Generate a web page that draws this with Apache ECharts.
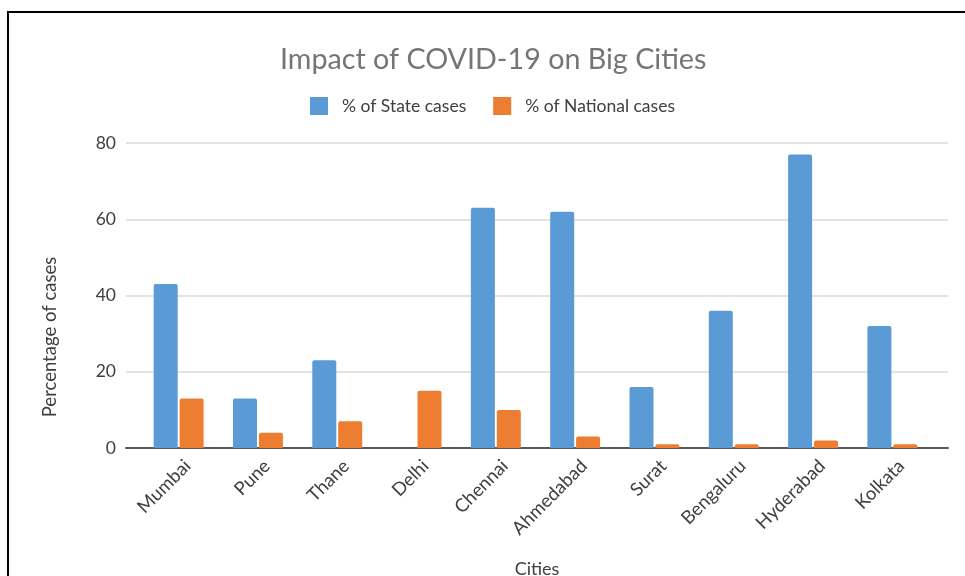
<!DOCTYPE html>
<html>
<head>
<meta charset="utf-8">
<script src="https://cdn.jsdelivr.net/npm/echarts@6/dist/echarts.min.js"></script>
<style>
  html, body { margin: 0; padding: 0; background: #fff; }
  #chart { width: 965px; height: 576px; }
</style>
</head>
<body>
<div id="chart"></div>
<script>
const cities = ['Mumbai', 'Pune', 'Thane', 'Delhi', 'Chennai', 'Ahmedabad', 'Surat', 'Bengaluru', 'Hyderabad', 'Kolkata']
const stateCases = [43, 13, 23, 0, 63, 62, 16, 36, 77, 32]
const nationalCases = [13, 4, 7, 15, 10, 3, 1, 1, 2, 1]
const yTicks = [0, 20, 40, 60, 80]

const textColor = '#404040'
const font = 'Lato'

const myChart = echarts.init(document.getElementById('chart'))

myChart.setOption({
  animation: false,
  title: {
    text: 'Impact of COVID-19 on Big Cities',
    left: 275,
    top: 40,
    textStyle: {
      color: '#757575',
      fontFamily: font,
      fontWeight: 'normal',
      fontSize: 28.7
    }
  },
  legend: {
    top: 92,
    left: 305,
    itemWidth: 18,
    itemHeight: 18,
    itemGap: 27,
    icon: 'rect',
    textStyle: { color: textColor, fontFamily: font, fontSize: 17.5, padding: [0, 0, 0, 9] },
    data: ['% of State cases', '% of National cases']
  },
  graphic: [
    {
      type: 'rect',
      shape: { x: 8, y: 12, width: 1100, height: 1100 },
      style: { fill: 'none', stroke: '#000', lineWidth: 2 }
    },
    {
      // y axis title, Excel puts it a bit below the plot centre
      type: 'text',
      x: 50,
      y: 337,
      rotation: Math.PI / 2,
      style: {
        text: 'Percentage of cases',
        fill: textColor,
        font: '18.5px Lato',
        align: 'center',
        verticalAlign: 'middle'
      }
    }
  ],
  grid: [
    // bars
    { left: 139, right: 33, top: 143, bottom: 128, outerBoundsMode: 'none' },
    // gridlines, labels and names (plot area)
    { left: 126, right: 17, top: 143, bottom: 128, outerBoundsMode: 'none' },
    // rotated city labels, nudged right like Excel does
    { left: 148, right: 24, top: 143, bottom: 128, outerBoundsMode: 'none' }
  ],
  xAxis: [
    {
      type: 'category',
      gridIndex: 0,
      data: cities,
      axisLine: { show: false },
      axisTick: { show: false },
      axisLabel: { show: false }
    },
    {
      type: 'value',
      gridIndex: 1,
      min: 0,
      max: 1,
      axisLabel: { show: false },
      axisTick: { show: false },
      splitLine: { show: false },
      axisLine: { show: true, onZero: false, lineStyle: { color: '#595959', width: 2 } },
      name: 'Cities',
      nameLocation: 'middle',
      nameGap: 112,
      nameTextStyle: { color: textColor, fontFamily: font, fontSize: 18 }
    },
    {
      type: 'category',
      gridIndex: 2,
      data: cities,
      axisLine: { show: false },
      axisTick: { show: false },
      axisLabel: {
        rotate: 45,
        margin: 15,
        color: textColor,
        fontFamily: font,
        fontSize: 18.5
      }
    }
  ],
  yAxis: [
    {
      type: 'value',
      gridIndex: 0,
      min: 0,
      max: yTicks[yTicks.length - 1],
      interval: 20,
      axisLabel: { show: false },
      splitLine: { show: false },
      axisLine: { show: false },
      axisTick: { show: false }
    },
    {
      type: 'value',
      gridIndex: 1,
      min: 0,
      max: yTicks[yTicks.length - 1],
      interval: 20,
      axisLine: { show: false },
      axisTick: { show: false },
      axisLabel: {
        margin: 10,
        color: textColor,
        fontFamily: font,
        fontSize: 17.5
      },
      splitLine: { lineStyle: { color: '#d9d9d9', width: 1.5 } }
    },
    {
      type: 'value',
      gridIndex: 2,
      show: false
    }
  ],
  series: [
    {
      name: '% of State cases',
      type: 'bar',
      xAxisIndex: 0,
      yAxisIndex: 0,
      barWidth: 24,
      barGap: '8%',
      itemStyle: { color: '#5b9bd5', borderRadius: [2, 2, 0, 0] },
      data: stateCases
    },
    {
      name: '% of National cases',
      type: 'bar',
      xAxisIndex: 0,
      yAxisIndex: 0,
      barWidth: 24,
      itemStyle: { color: '#ed7d31', borderRadius: [2, 2, 0, 0] },
      data: nationalCases
    }
  ]
})
</script>
</body>
</html>
